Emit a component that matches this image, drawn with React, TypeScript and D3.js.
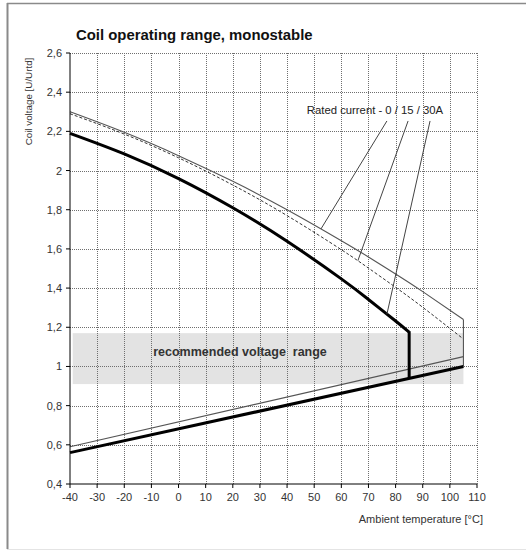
import { useEffect, useRef } from 'react';
import * as d3 from 'd3';

// temperatures [°C] and coil voltages [U/Urtd]
const xTicks = [-40, -30, -20, -10, 0, 10, 20, 30, 40, 50, 60, 70, 80, 90, 100, 110];
const yTicks = [0.4, 0.6, 0.8, 1, 1.2, 1.4, 1.6, 1.8, 2, 2.2, 2.4, 2.6];

// max voltage, 0 A (thin solid)
const max0Temp = [-40, -20, 0, 20, 40, 60, 70, 80, 90, 105];
const max0Volt = [2.3, 2.195, 2.076, 1.945, 1.8, 1.642, 1.559, 1.472, 1.382, 1.24];
// max voltage, 15 A (dashed)
const max15Temp = [-40, -20, 0, 20, 40, 60, 70, 80, 90, 105];
const max15Volt = [2.29, 2.186, 2.065, 1.926, 1.77, 1.596, 1.502, 1.404, 1.302, 1.14];
// max voltage, 30 A (thick)
const max30Temp = [-40, -20, 0, 20, 40, 60, 70, 80, 85];
const max30Volt = [2.19, 2.085, 1.959, 1.81, 1.639, 1.447, 1.342, 1.232, 1.175];
// min (pick-up) voltage
const minThinTemp = [-40, 105];
const minThinVolt = [0.59, 1.05];
const minThickTemp = [-40, 105];
const minThickVolt = [0.56, 1.0];

// recommended band
const bandTemp = [-39, 105];
const bandVolt = [0.91, 1.17];

// leader lines from the note to the curves [t1, v1, t2, v2]
const leaders = [
  [76.8, 2.253, 52.5, 1.702],
  [84.6, 2.253, 66.1, 1.54],
  [92.7, 2.253, 76.8, 1.267],
];

const W = 526;
const H = 551;

const App = () => {
  const svgRef = useRef<SVGSVGElement | null>(null);

  useEffect(() => {
    const svg = d3.select(svgRef.current);
    svg.selectAll('*').remove();

    const x = d3.scaleLinear().domain([-40, 110]).range([70, 477]);
    const y = d3.scaleLinear().domain([0.4, 2.6]).range([484, 53]);
    const font = 'Arial, "Liberation Sans", sans-serif';

    // outer frame
    svg.append('line').attr('x1', 7).attr('x2', W).attr('y1', 3.5).attr('y2', 3.5)
      .attr('stroke', '#8a8a8a').attr('stroke-width', 1.5);
    svg.append('line').attr('x1', 7.5).attr('x2', 7.5).attr('y1', 3).attr('y2', 549)
      .attr('stroke', '#8a8a8a').attr('stroke-width', 2);
    svg.append('line').attr('x1', 7).attr('x2', W).attr('y1', 549.5).attr('y2', 549.5)
      .attr('stroke', '#e4e4e4').attr('stroke-width', 1);

    // title
    svg.append('text').attr('x', 76).attr('y', 40)
      .attr('font-family', font).attr('font-weight', 'bold').attr('font-size', 14.9)
      .attr('fill', '#111').text('Coil operating range, monostable');

    // band
    svg.append('rect')
      .attr('x', x(bandTemp[0])).attr('width', x(bandTemp[1]) - x(bandTemp[0]))
      .attr('y', y(bandVolt[1])).attr('height', y(bandVolt[0]) - y(bandVolt[1]))
      .attr('fill', '#e3e3e3');

    // grid
    const grid = svg.append('g').attr('stroke', '#6f6f6f').attr('stroke-width', 1)
      .attr('stroke-dasharray', '1,1');
    grid.selectAll('.gx').data(xTicks.slice(1)).join('line')
      .attr('x1', d => Math.round(x(d)) + 0.5).attr('x2', d => Math.round(x(d)) + 0.5)
      .attr('y1', y(2.6)).attr('y2', y(0.4));
    grid.selectAll('.gy').data(yTicks.slice(1)).join('line')
      .attr('y1', d => Math.round(y(d)) + 0.5).attr('y2', d => Math.round(y(d)) + 0.5)
      .attr('x1', x(-40)).attr('x2', x(110));

    svg.append('text').attr('x', 240).attr('y', 356).attr('text-anchor', 'middle')
      .attr('font-family', font).attr('font-weight', 'bold').attr('font-size', 12.5)
      .attr('fill', '#333').attr('xml:space', 'preserve')
      .text('recommended voltage  range');

    // curves
    const line = d3.line<[number, number]>().x(d => x(d[0])).y(d => y(d[1])).curve(d3.curveNatural);
    const zip = (t: number[], v: number[]) => t.map((d, i) => [d, v[i]] as [number, number]);

    svg.append('path').attr('d', line(zip(max0Temp, max0Volt)))
      .attr('fill', 'none').attr('stroke', '#555').attr('stroke-width', 1.1);
    svg.append('path').attr('d', line(zip(max15Temp, max15Volt)))
      .attr('fill', 'none').attr('stroke', '#333').attr('stroke-width', 1)
      .attr('stroke-dasharray', '3,2');
    svg.append('path').attr('d', line(zip(minThinTemp, minThinVolt)))
      .attr('fill', 'none').attr('stroke', '#555').attr('stroke-width', 1.1);
    // 105 °C end
    svg.append('line').attr('x1', x(105)).attr('x2', x(105))
      .attr('y1', y(max0Volt[max0Volt.length - 1])).attr('y2', y(minThickVolt[1]))
      .attr('stroke', '#555').attr('stroke-width', 1.1);

    svg.append('path').attr('d', line(zip(max30Temp, max30Volt)))
      .attr('fill', 'none').attr('stroke', '#000').attr('stroke-width', 3);
    svg.append('path').attr('d', line(zip(minThickTemp, minThickVolt)))
      .attr('fill', 'none').attr('stroke', '#000').attr('stroke-width', 3);
    const t85 = max30Temp[max30Temp.length - 1];
    const low85 = minThickVolt[0] + (minThickVolt[1] - minThickVolt[0]) * (t85 - minThickTemp[0]) / (minThickTemp[1] - minThickTemp[0]);
    svg.append('line').attr('x1', x(t85)).attr('x2', x(t85))
      .attr('y1', y(max30Volt[max30Volt.length - 1]) - 1).attr('y2', y(low85))
      .attr('stroke', '#000').attr('stroke-width', 3);

    // leaders + note
    svg.selectAll('.leader').data(leaders).join('line')
      .attr('x1', d => x(d[0])).attr('y1', d => y(d[1]))
      .attr('x2', d => x(d[2])).attr('y2', d => y(d[3]))
      .attr('stroke', '#444').attr('stroke-width', 1);
    svg.append('text').attr('x', 375).attr('y', 114).attr('text-anchor', 'middle')
      .attr('font-family', font).attr('font-size', 11.3).attr('fill', '#222')
      .text('Rated current - 0 / 15 / 30A');

    // axes
    const ax = svg.append('g').attr('font-family', font).attr('font-size', 11).attr('fill', '#333');
    ax.append('line').attr('x1', x(-40)).attr('x2', x(-40)).attr('y1', y(2.6)).attr('y2', y(0.4))
      .attr('stroke', '#000');
    ax.append('line').attr('x1', x(-40)).attr('x2', x(110)).attr('y1', y(0.4)).attr('y2', y(0.4))
      .attr('stroke', '#000');
    ax.selectAll('.ty').data(yTicks).join('line')
      .attr('x1', x(-40) - 4).attr('x2', x(-40)).attr('y1', d => y(d)).attr('y2', d => y(d))
      .attr('stroke', '#000');
    ax.selectAll('.tx').data(xTicks).join('line')
      .attr('y1', y(0.4)).attr('y2', y(0.4) + 4).attr('x1', d => x(d)).attr('x2', d => x(d))
      .attr('stroke', '#000');
    ax.selectAll('.ly').data(yTicks).join('text')
      .attr('x', 62).attr('y', d => y(d) + 4).attr('text-anchor', 'end')
      .text(d => d3.format('~g')(d).replace('.', ','));
    ax.selectAll('.lx').data(xTicks).join('text')
      .attr('x', d => x(d)).attr('y', 501).attr('text-anchor', 'middle')
      .text(d => String(d));

    svg.append('text').attr('x', 483).attr('y', 523).attr('text-anchor', 'end')
      .attr('font-family', font).attr('font-size', 11).attr('fill', '#333')
      .text('Ambient temperature [°C]');
    svg.append('text').attr('transform', 'translate(32,101.5) rotate(-90)').attr('text-anchor', 'middle')
      .attr('font-family', font).attr('font-size', 9.8).attr('fill', '#333')
      .text('Coil voltage [U/Urtd]');
  }, []);

  return (
    <div style={{ position: 'fixed', left: 0, top: 0 }}>
      <svg ref={svgRef} width={W} height={H} style={{ display: 'block', background: '#fff' }}></svg>
    </div>
  );
};

export default App;
